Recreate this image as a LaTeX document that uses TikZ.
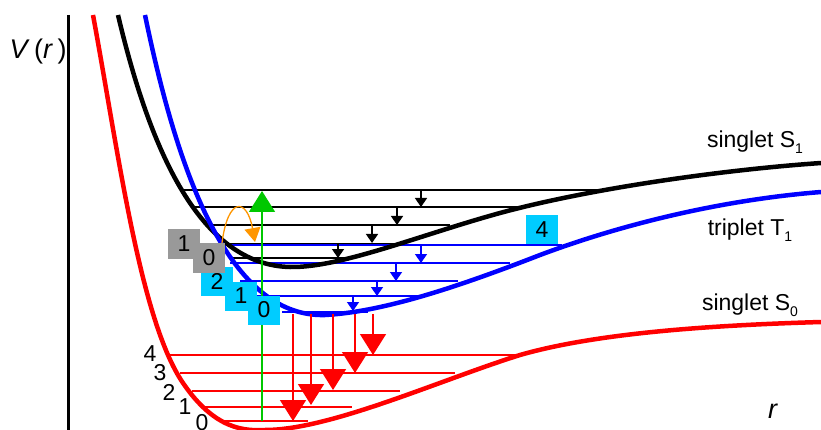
\documentclass[tikz,border=0pt]{standalone}
\usepackage{fontspec}
\setmainfont{Liberation Sans}
\usetikzlibrary{arrows.meta}
\definecolor{pesred}{RGB}{255,0,0}
\definecolor{pesblue}{RGB}{0,0,255}
\definecolor{absgreen}{RGB}{0,200,0}
\definecolor{iscorange}{RGB}{255,150,0}
\definecolor{boxgray}{RGB}{153,153,153}
\definecolor{boxcyan}{RGB}{0,204,255}
\newcommand{\lowidx}[1]{\raisebox{-0.28em}{\fontsize{14}{14}\selectfont #1}}
\tikzset{
    axisline/.style={line width=3pt, draw=black},
    axislbl/.style={inner sep=0pt, font=\fontsize{27}{30}\selectfont},
    s0curve/.style={line width=4.5pt, draw=pesred},
    s1curve/.style={line width=4.5pt, draw=black},
    t1curve/.style={line width=4.5pt, draw=pesblue},
    s0level/.style={line width=2.5pt, draw=pesred},
    s1level/.style={line width=2.5pt, draw=black},
    t1level/.style={line width=2.5pt, draw=pesblue},
    s1relax/.style={-{Triangle[length=9pt, width=12pt]}, line width=1.5pt, draw=black},
    t1relax/.style={-{Triangle[length=9pt, width=12pt]}, line width=1.5pt, draw=pesblue, fill=pesblue},
    emit/.style={-{Triangle[length=21pt, width=26pt]}, line width=1.6pt, draw=pesred},
    absorb/.style={-{Triangle[length=21pt, width=26pt]}, line width=1.6pt, draw=absgreen},
    isc/.style={-{Triangle[length=14pt, width=16pt]}, line width=1.3pt, draw=iscorange},
    numbox/.style={rectangle, minimum width=32pt, minimum height=29pt, inner sep=0pt},
    graybox/.style={numbox, fill=boxgray},
    cyanbox/.style={numbox, fill=boxcyan},
    lvlnum/.style={inner sep=0pt},
    statelbl/.style={inner sep=0pt},
}

\begin{document}
\begin{tikzpicture}[x=1pt, y=-1pt, font=\fontsize{23}{27}\selectfont]
    \useasboundingbox (0,0) rectangle (821,430);
    % axis
    \draw[axisline] (68,15) -- (68,430);
    \node[axislbl] (vlbl) at (38,52) {\textit{V}\,(\textit{r}\,)};
    \node[axislbl] (rlbl) at (773,411) {\textit{r}};
    % vibrational levels
    \foreach \y/\xa/\xb in {355/170/522, 373/180/455, 391/192/400, 407/205/352, 421/225/308}
        \draw[s0level] (\xa,\y) -- (\xb,\y);
    \foreach \y/\xa/\xb in {190/183/597, 207/192/523, 225/207/450, 244/218/400, 258/230/347}
        \draw[s1level] (\xa,\y) -- (\xb,\y);
    \foreach \y/\xa/\xb in {245/225/562, 263/230/510, 281/240/458, 296/252/423, 312/282/368}
        \draw[t1level] (\xa,\y) -- (\xb,\y);
    % potential curves
    \draw[s0curve] (93,15) .. controls (118,150) and (140,320) .. (183,383)
        .. controls (215,430) and (245,431) .. (265,430)
        .. controls (330,430) and (440,380) .. (520,355)
        .. controls (600,332) and (720,325) .. (821,322);
    \draw[s1curve] (118,15) .. controls (150,150) and (200,265) .. (290,267)
        .. controls (340,268) and (420,235) .. (500,213)
        .. controls (588,189) and (720,170) .. (821,163);
    \draw[t1curve] (145,15) .. controls (175,160) and (225,318) .. (325,315)
        .. controls (380,312) and (450,290) .. (540,255)
        .. controls (620,225) and (720,200) .. (821,192);
    % relaxation within S1 and T1
    \foreach \x/\ya/\yb in {421/190/207, 397/207/225, 372/225/243, 338/243/258}
        \draw[s1relax] (\x,\ya) -- (\x,\yb);
    \foreach \x/\ya/\yb in {421/245/263, 396/263/281, 377/281/296, 353/296/311}
        \draw[t1relax] (\x,\ya) -- (\x,\yb);
    % phosphorescence
    \foreach \x/\y in {293/421, 311/405, 333/390, 355/373, 373/355}
        \draw[emit] (\x,314) -- (\x,\y);
    % absorption and intersystem crossing
    \coordinate (gbot) at (262,421);
    \coordinate (gtop) at (262,191);
    \draw[absorb] (gbot) -- (gtop);
    \coordinate (iscA) at (222,243);
    \coordinate (iscB) at (255,242);
    \draw[isc] (iscA) .. controls (228,196) and (247,198) .. (iscB);
    % level numbers
    \foreach \n/\x/\y in {4/150/354, 3/160/373, 2/169/392, 1/185/407, 0/202/423}
        \node[lvlnum] (s0n\n) at (\x,\y) {\n};
    \node[cyanbox] (t1n2) at (217,281) {2};
    \node[cyanbox] (t1n1) at (241,296) {1};
    \node[cyanbox] (t1n0) at (264,310) {0};
    \node[cyanbox] (t1n4) at (542,230) {4};
    \node[graybox] (s1n1) at (184,244) {1};
    \node[graybox] (s1n0) at (209,258) {0};
    % state labels
    \node[statelbl] (s1lbl) at (755,142) {singlet S\lowidx{1}};
    \node[statelbl] (t1lbl) at (750,230) {triplet T\lowidx{1}};
    \node[statelbl] (s0lbl) at (750,305) {singlet S\lowidx{0}};
\end{tikzpicture}
\end{document}
